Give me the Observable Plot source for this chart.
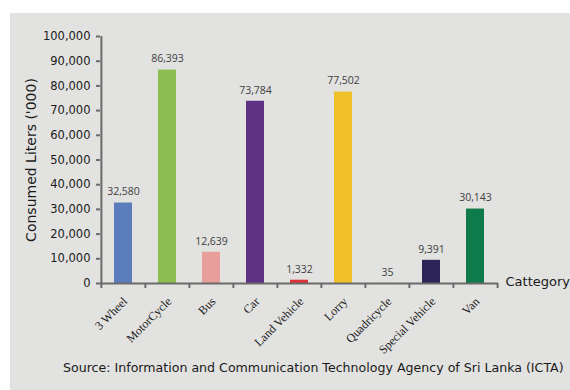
<!DOCTYPE html>
<html><head><meta charset="utf-8">
<script src="https://cdn.jsdelivr.net/npm/d3@7"></script>
<script src="https://cdn.jsdelivr.net/npm/@observablehq/plot@0.6"></script>
<style>
html,body{margin:0;padding:0;background:#fff;}
#panel{position:absolute;left:10px;top:13px;width:560px;height:377px;background:#e2e2e0;}
#chart{position:absolute;left:0;top:0;}
#caption{position:absolute;left:53px;top:346px;font:12.6px "DejaVu Sans";color:#1a1a1a;white-space:nowrap;line-height:18px;}
</style></head>
<body>
<div id="panel"><div id="chart"></div><div id="caption">Source: Information and Communication Technology Agency of Sri Lanka (ICTA)</div></div>
<script>
const categories = ["3 Wheel", "MotorCycle", "Bus", "Car", "Land Vehicle", "Lorry", "Quadricycle", "Special Vehicle", "Van"];
const values = [32580, 86393, 12639, 73784, 1332, 77502, 35, 9391, 30143];
const colors = ["#5b7dbb", "#8cbd50", "#e89f9c", "#5e3386", "#e0323a", "#efc027", "#9e9e9e", "#2d2459", "#0f7a4a"];
const yTicks = [0, 10000, 20000, 30000, 40000, 50000, 60000, 70000, 80000, 90000, 100000];
const yLabel = "Consumed Liters ('000)";
const xLabel = "Cattegory";

const data = categories.map((c, i) => ({category: c, value: values[i]}));
const W = 560, H = 345, mL = 90, mR = 72, mT = 23, mB = 75;
const step = (W - mL - mR) / categories.length;
const axisColor = "#6a6a6a";
const fmt = d3.format(",");
const last = categories[categories.length - 1];

const chart = Plot.plot({
  width: W, height: H, marginLeft: mL, marginRight: mR, marginTop: mT, marginBottom: mB,
  style: {background: "transparent", overflow: "visible"},
  x: {domain: categories, paddingInner: 0.59, paddingOuter: 0.295, axis: null},
  y: {domain: [0, 100000], axis: null},
  color: {domain: categories, range: colors},
  marks: [
    Plot.barY(data, {x: "category", y: "value", fill: "category"}),
    Plot.axisY({ticks: yTicks, tickFormat: fmt, tickSize: 4, tickPadding: 6, stroke: axisColor, strokeWidth: 2, strokeOpacity: 1, fontFamily: "DejaVu Sans", fontSize: 11.5, fill: "#1a1a1a", label: null}),
    Plot.axisX({ticks: categories, tickSize: 5, tickFormat: () => "", dx: -step / 2, stroke: axisColor, strokeWidth: 2, strokeOpacity: 1, label: null}),
    Plot.axisX({ticks: [last], tickSize: 5, tickFormat: () => "", dx: step / 2, stroke: axisColor, strokeWidth: 2, strokeOpacity: 1, label: null}),
    Plot.axisX({ticks: categories, tickSize: 0, tickPadding: 16, tickRotate: -45, dx: 2, fontFamily: "Liberation Serif", fontSize: 12, fill: "#1a1a1a", label: null}),
    Plot.ruleY([0], {stroke: axisColor, strokeWidth: 2}),
    Plot.ruleX([categories[0]], {dx: -step / 2, stroke: axisColor, strokeWidth: 2}),
    Plot.text(data, {x: "category", y: "value", text: d => fmt(d.value), dy: -11, fontSize: 10.5, fontFamily: "Open Sans", fill: "#404040"}),
    Plot.text([yLabel], {frameAnchor: "left", dx: -69, rotate: -90, textAnchor: "middle", fontSize: 14, fontFamily: "DejaVu Sans", fill: "#1a1a1a"}),
    Plot.text([xLabel], {frameAnchor: "bottom-right", dx: 7, dy: 2, textAnchor: "start", fontSize: 13, fontFamily: "DejaVu Sans", fill: "#1a1a1a"})
  ]
});
document.getElementById("chart").appendChild(chart);
</script>
</body></html>
